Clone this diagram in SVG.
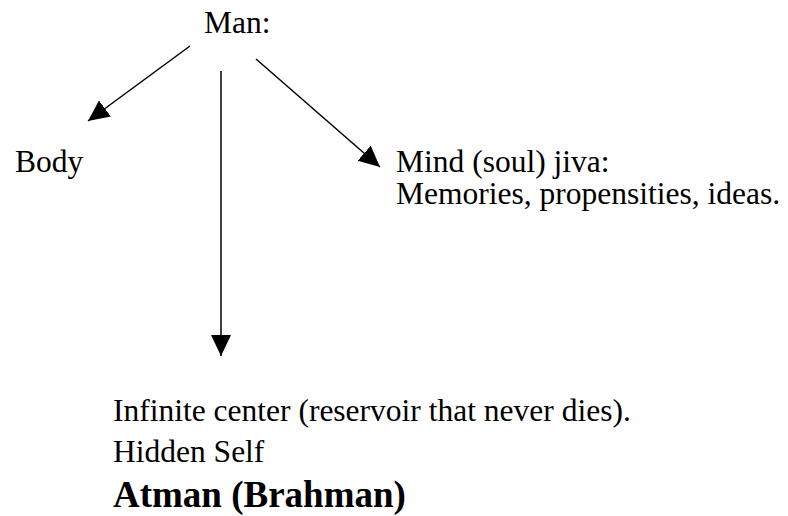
<svg xmlns="http://www.w3.org/2000/svg" width="788" height="516" viewBox="0 0 788 516">
<style>
  text { font-family: "Liberation Serif", "Times New Roman", serif; fill: #000; font-size: 31.5px; }
  .b { font-weight: bold; font-size: 37px; }
  .conn line { stroke: #000; stroke-width: 1.5; fill: none; }
</style>
<defs>
  <marker id="ah" markerUnits="userSpaceOnUse" markerWidth="22" markerHeight="22" refX="21" refY="10" orient="auto">
    <path d="M0,0 L21,10 L0,20 Z" fill="#000"/>
  </marker>
</defs>
<rect width="788" height="516" fill="#fff"/>
<g id="connectors" class="conn">
  <line x1="190" y1="46" x2="88" y2="121" marker-end="url(#ah)"/>
  <line x1="221" y1="71" x2="221" y2="356" marker-end="url(#ah)"/>
  <line x1="256" y1="59" x2="380" y2="167" marker-end="url(#ah)"/>
</g>
<g id="man"><text x="204" y="33">Man:</text></g>
<g id="body"><text x="15" y="172">Body</text></g>
<g id="mind">
  <text x="396" y="172">Mind (soul) jiva:</text>
  <text x="396" y="204">Memories, propensities, ideas.</text>
</g>
<g id="atman">
  <text x="113" y="421">Infinite center (reservoir that never dies).</text>
  <text x="113" y="462">Hidden Self</text>
  <text class="b" x="113" y="507">Atman (Brahman)</text>
</g>
</svg>
